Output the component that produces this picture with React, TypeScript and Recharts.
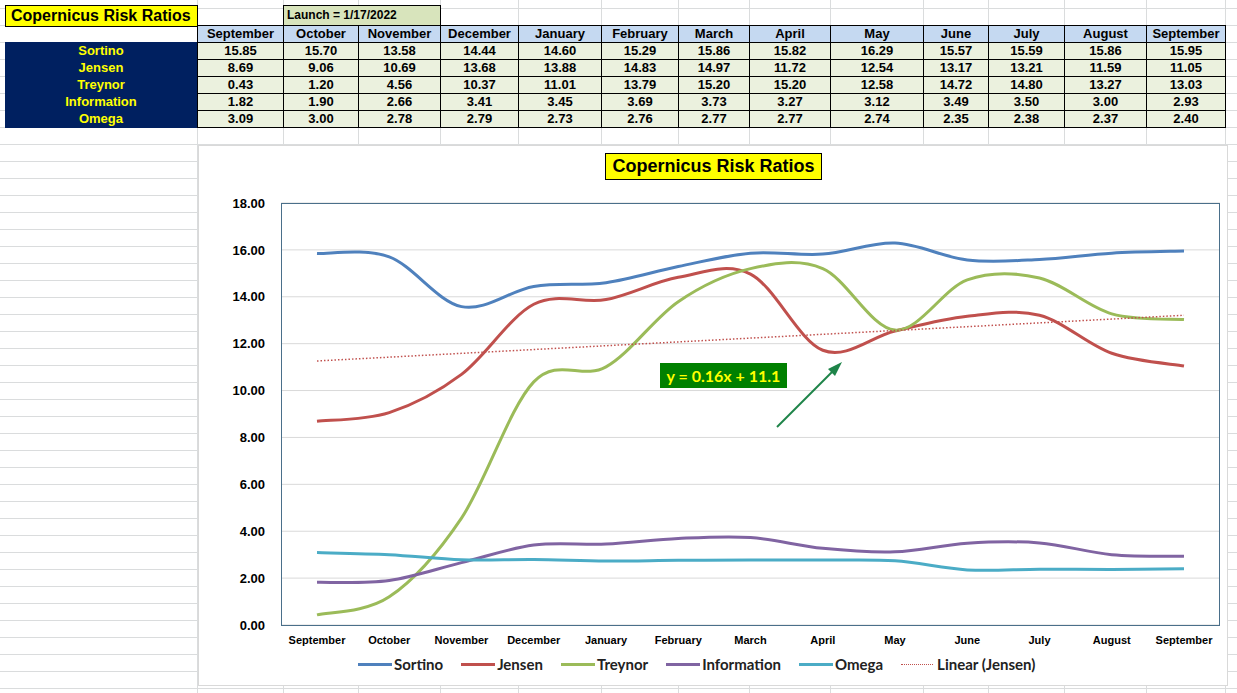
import { LineChart, Line, XAxis, YAxis, CartesianGrid } from 'recharts'

const months = ['September', 'October', 'November', 'December', 'January', 'February', 'March', 'April', 'May', 'June', 'July', 'August', 'September']
const sortino = [15.85, 15.7, 13.58, 14.44, 14.6, 15.29, 15.86, 15.82, 16.29, 15.57, 15.59, 15.86, 15.95]
const jensen = [8.69, 9.06, 10.69, 13.68, 13.88, 14.83, 14.97, 11.72, 12.54, 13.17, 13.21, 11.59, 11.05]
const treynor = [0.43, 1.2, 4.56, 10.37, 11.01, 13.79, 15.2, 15.2, 12.58, 14.72, 14.8, 13.27, 13.03]
const information = [1.82, 1.9, 2.66, 3.41, 3.45, 3.69, 3.73, 3.27, 3.12, 3.49, 3.5, 3.0, 2.93]
const omega = [3.09, 3.0, 2.78, 2.79, 2.73, 2.76, 2.77, 2.77, 2.74, 2.35, 2.38, 2.37, 2.4]
const yTicks = [0, 2, 4, 6, 8, 10, 12, 14, 16, 18]

const series = [
  { name: 'Sortino', values: sortino, color: '#4f81bd' },
  { name: 'Jensen', values: jensen, color: '#c0504d' },
  { name: 'Treynor', values: treynor, color: '#9bbb59' },
  { name: 'Information', values: information, color: '#8064a2' },
  { name: 'Omega', values: omega, color: '#4bacc6' },
]

// least squares trendline over x = 1..n, like Excel's "Linear (Jensen)"
const n = jensen.length
const xMean = (n + 1) / 2
const yMean = jensen.reduce((a, b) => a + b, 0) / n
let sxy = 0
let sxx = 0
jensen.forEach((v, i) => {
  sxy += (i + 1 - xMean) * (v - yMean)
  sxx += (i + 1 - xMean) ** 2
})
const slope = sxy / sxx
const intercept = yMean - slope * xMean

const data = months.map((m, i) => ({
  month: m,
  Sortino: sortino[i],
  Jensen: jensen[i],
  Treynor: treynor[i],
  Information: information[i],
  Omega: omega[i],
  trend: intercept + slope * (i + 1),
}))

// Excel-style smoothed line (uniform Catmull-Rom as cubic beziers)
function excelSmooth(context: any) {
  let pts: number[][] = []
  return {
    areaStart() {},
    areaEnd() {},
    lineStart() {
      pts = []
    },
    point(x: number, y: number) {
      pts.push([+x, +y])
    },
    lineEnd() {
      const k = pts.length
      if (!k) return
      context.moveTo(pts[0][0], pts[0][1])
      for (let i = 0; i < k - 1; i++) {
        const p0 = pts[Math.max(0, i - 1)]
        const p1 = pts[i]
        const p2 = pts[i + 1]
        const p3 = pts[Math.min(k - 1, i + 2)]
        context.bezierCurveTo(
          p1[0] + (p2[0] - p0[0]) / 6,
          p1[1] + (p2[1] - p0[1]) / 6,
          p2[0] - (p3[0] - p1[0]) / 6,
          p2[1] - (p3[1] - p1[1]) / 6,
          p2[0],
          p2[1],
        )
      }
    },
  }
}

const colEdges = [197, 283, 358, 440, 518, 601, 678, 749, 830, 923, 988, 1064, 1146, 1225]
const rowTop = 42
const rowH = 17
const arial = '"Liberation Sans", Arial, sans-serif'
const calibri = 'Lato, "Open Sans", sans-serif'

function SheetGrid() {
  const hLines = []
  for (let y = 8; y < 693; y += 17) hLines.push(y)
  return (
    <svg width={1237} height={693} style={{ position: 'absolute', left: 0, top: 0 }}>
      {hLines.map(y => (
        <line key={'h' + y} x1={0} x2={1237} y1={y + 0.5} y2={y + 0.5} stroke="#dadcdd" />
      ))}
      {colEdges.map(x => (
        <line key={'v' + x} x1={x + 0.5} x2={x + 0.5} y1={0} y2={693} stroke="#dadcdd" />
      ))}
    </svg>
  )
}

function Table() {
  const cells: any[] = []
  const cellStyle = { position: 'absolute' as const, height: rowH + 1, boxSizing: 'border-box' as const, border: '1px solid #000', fontFamily: arial, fontWeight: 'bold' as const, fontSize: 13, textAlign: 'center' as const, lineHeight: '16px', whiteSpace: 'nowrap' as const }
  months.forEach((m, c) => {
    const left = colEdges[c]
    const w = colEdges[c + 1] - left + 1
    cells.push(
      <div key={'hd' + c} style={{ ...cellStyle, left, top: 25, width: w, background: '#c5d9f1' }}>
        {m}
      </div>,
    )
    series.forEach((s, r) => {
      cells.push(
        <div key={'c' + c + '_' + r} style={{ ...cellStyle, left, top: rowTop + r * rowH, width: w, background: '#ebf1de' }}>
          {s.values[c].toFixed(2)}
        </div>,
      )
    })
  })
  return (
    <>
      <div style={{ position: 'absolute', left: 5, top: 5, width: 193, height: 22, boxSizing: 'border-box', border: '1px solid #000', background: '#ffff00', fontFamily: arial, fontWeight: 'bold', fontSize: 16, lineHeight: '20px', paddingLeft: 5, whiteSpace: 'nowrap' }}>
        Copernicus Risk Ratios
      </div>
      <div style={{ position: 'absolute', left: 283, top: 5, width: 158, height: 21, boxSizing: 'border-box', border: '1px solid #000', background: '#d8e4bc', fontFamily: arial, fontWeight: 'bold', fontSize: 12, lineHeight: '19px', paddingLeft: 3, whiteSpace: 'nowrap' }}>
        Launch = 1/17/2022
      </div>
      <div style={{ position: 'absolute', left: 5, top: 27, width: 192, height: 15, background: '#fff' }} />
      <div style={{ position: 'absolute', left: 5, top: rowTop, width: 192, height: rowH * 5 + 1, background: '#002060' }}>
        {series.map(s => (
          <div key={s.name} style={{ height: rowH, lineHeight: '18px', textAlign: 'center', color: '#ffff00', fontFamily: arial, fontWeight: 'bold', fontSize: 13 }}>
            {s.name}
          </div>
        ))}
      </div>
      {cells}
    </>
  )
}

export default function App() {
  const chartLeft = 198
  const chartTop = 145
  return (
    <div style={{ position: 'absolute', left: 0, top: 0, width: 1237, height: 693, background: '#fff', overflow: 'hidden' }}>
      <SheetGrid />
      <Table />
      <div style={{ position: 'absolute', left: chartLeft, top: chartTop, width: 1030, height: 541, background: '#fff', border: '1px solid #d9d9d9', boxSizing: 'border-box' }}>
        <div style={{ position: 'absolute', left: 406, top: 7, width: 217, height: 27, boxSizing: 'border-box', border: '1px solid #000', background: '#ffff00', fontFamily: arial, fontWeight: 'bold', fontSize: 18, lineHeight: '25px', textAlign: 'center' }}>
          Copernicus Risk Ratios
        </div>
        <LineChart width={1030} height={541} data={data} margin={{ top: 58, right: 8, bottom: 0, left: 0 }} style={{ position: 'absolute', left: -1, top: -1 }}>
          <CartesianGrid vertical={false} stroke="#d9d9d9" />
          <XAxis
            dataKey="month"
            height={61}
            interval={0}
            padding={{ left: 36, right: 36 }}
            axisLine={false}
            tickLine={false}
            tickMargin={5}
            tick={{ fontSize: 11, fontWeight: 'bold', fill: '#000', fontFamily: arial }}
          />
          <YAxis
            width={83}
            domain={[0, 18]}
            ticks={yTicks}
            axisLine={false}
            tickLine={false}
            tickMargin={10}
            tickFormatter={(v: number) => v.toFixed(2)}
            tick={{ fontSize: 13, fontWeight: 'bold', fill: '#000', fontFamily: arial }}
          />
          {series.map(s => (
            <Line key={s.name} dataKey={s.name} type={excelSmooth as any} stroke={s.color} strokeWidth={3} dot={false} isAnimationActive={false} />
          ))}
          <Line dataKey="trend" type="linear" stroke="#c0504d" strokeWidth={1.5} strokeDasharray="1.5 2" dot={false} isAnimationActive={false} />
        </LineChart>
        <div style={{ position: 'absolute', left: 82, top: 57, width: 939, height: 423, boxSizing: 'border-box', border: '1px solid #4a6f8a', pointerEvents: 'none' }} />
        <div style={{ position: 'absolute', left: 159, top: 509, display: 'flex', gap: 18, alignItems: 'center', fontFamily: calibri, fontWeight: 'bold', fontSize: 15, color: '#222', whiteSpace: 'nowrap' }}>
          {series.map(s => (
            <div key={s.name} style={{ display: 'flex', alignItems: 'center' }}>
              <div style={{ width: 34, height: 3, background: s.color, marginRight: 2 }} />
              {s.name}
            </div>
          ))}
          <div style={{ display: 'flex', alignItems: 'center' }}>
            <div style={{ width: 32, height: 0, borderTop: '1.5px dotted #c0504d', marginRight: 4 }} />
            Linear (Jensen)
          </div>
        </div>
      </div>
      <div style={{ position: 'absolute', left: 660, top: 363, width: 127, height: 25, background: '#008000', color: '#ffff00', fontFamily: calibri, fontWeight: 'bold', fontSize: 16, lineHeight: '25px', textAlign: 'center' }}>
        y = 0.16x + 11.1
      </div>
      <svg width={1237} height={693} style={{ position: 'absolute', left: 0, top: 0, pointerEvents: 'none' }}>
        <line x1={777} y1={427} x2={834} y2={370} stroke="#1e8449" strokeWidth={2} />
        <polygon points="842,362 828,369 835,376" fill="#1e8449" />
      </svg>
    </div>
  )
}
